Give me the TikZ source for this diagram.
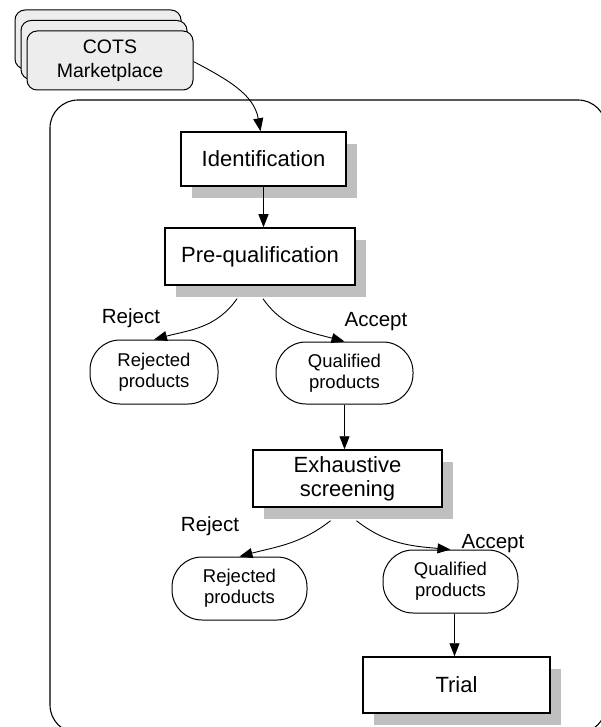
\documentclass[tikz,border=0pt]{standalone}
\usepackage{fontspec}
\setmainfont{Liberation Sans}
\usetikzlibrary{arrows.meta,shadows,calc}

\begin{document}
\begin{tikzpicture}[x=1pt,y=1pt,
  boxfont/.style={font=\fontsize{22}{24}\selectfont},
  smallfont/.style={font=\fontsize{18.5}{21}\selectfont},
  labelfont/.style={font=\fontsize{20.5}{23}\selectfont},
  procbox/.style={boxfont, draw, line width=1.5pt, fill=white, inner sep=0pt,
    align=center,
    drop shadow={shadow xshift=11pt, shadow yshift=-12pt, fill=gray!50, opacity=1}},
  result/.style={smallfont, draw, line width=1pt, fill=white, rounded corners=30pt,
    inner sep=0pt, align=center},
  market/.style={draw, line width=1pt, fill=gray!14, rounded corners=10pt,
    minimum width=166pt, minimum height=59pt, inner sep=0pt},
  flow/.style={line width=0.9pt, -{Triangle[length=13pt,width=10pt]}},
  lbl/.style={labelfont, inner sep=0pt}
]
\useasboundingbox (0,0) rectangle (601,-727);
\clip (0,0) rectangle (601,-727);

% outer frame of the selection process
\draw[line width=1.1pt, rounded corners=28pt] (50,-100) rectangle (606,-733);

% stacked marketplace sheets
\node[market] (cotsC) at (98,-39.5) {};
\node[market] (cotsB) at (104,-50) {};
\node[market, align=center, font=\fontsize{19.5}{24}\selectfont] (cots) at (110,-60.5)
  {COTS\\Marketplace};

% process steps
\node[procbox, minimum width=165pt, minimum height=54pt] (ident) at (263.5,-159) {Identification};
\node[procbox, minimum width=190pt, minimum height=57pt] (prequal) at (260,-256.5) {Pre-qualification};
\node[procbox, minimum width=189pt, minimum height=57pt] (exhaust) at (347.5,-478.5) {Exhaustive\\screening};
\node[procbox, minimum width=187pt, minimum height=56pt] (trial) at (456.5,-685) {Trial};

% outcomes
\node[result, minimum width=128pt, minimum height=64pt] (rejA) at (154,-372) {Rejected\\products};
\node[result, minimum width=137pt, minimum height=62pt] (qualA) at (344.5,-373) {Qualified\\products};
\node[result, minimum width=135pt, minimum height=63pt] (rejB) at (239.5,-588.5) {Rejected\\products};
\node[result, minimum width=135pt, minimum height=63pt] (qualB) at (450.5,-581.5) {Qualified\\products};

% decision labels
\node[lbl] (rejlblA) at (131,-318) {Reject};
\node[lbl] (acclblA) at (376,-322) {Accept};
\node[lbl] (rejlblB) at (210,-526) {Reject};
\node[lbl] (acclblB) at (493,-544) {Accept};

% connectors
\draw[flow] ($(cots.east)+(0,-1)$) to[out=-28, in=100] ($(ident.north)+(-3,0)$);
\draw[flow] (ident.south) -- (prequal.north -| ident.south);
\draw[flow] ($(prequal.south)+(-23,-13)$) to[out=235, in=15] (rejA.north);
\draw[flow] ($(prequal.south)+(3,-13)$) to[out=-55, in=165] (qualA.north);
\draw[flow] (qualA.south) -- (exhaust.north -| qualA.south);
\draw[flow] ($(exhaust.south)+(-17,-13)$) to[out=218, in=15] (rejB.north);
\draw[flow] ($(exhaust.south)+(9,-13)$) to[out=-38, in=175] (qualB.north);
\draw[flow] ($(qualB.south)+(4,0)$) -- ($(trial.north)+(-2,0)$);
\end{tikzpicture}
\end{document}
